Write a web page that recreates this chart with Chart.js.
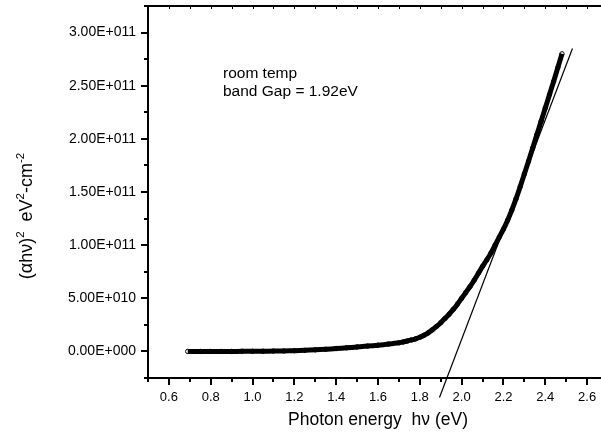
<!DOCTYPE html>
<html>
<head>
<meta charset="utf-8">
<script src="https://cdn.jsdelivr.net/npm/chart.js@4.4.1/dist/chart.umd.min.js"></script>
<style>
  html, body { margin: 0; padding: 0; background: #fff; overflow: hidden; width: 601px; height: 439px; }
  #wrap { position: absolute; left: 0; top: 0; width: 620px; height: 439px; }
</style>
</head>
<body>
<div id="wrap"><canvas id="c" width="620" height="439"></canvas></div>
<script>
// Measured (alpha*h*nu)^2 versus photon energy
const energy = [0.69, 0.75, 0.80, 0.85, 0.90, 0.95, 1.00, 1.05, 1.10, 1.15, 1.20, 1.25, 1.30, 1.35, 1.40, 1.45,
  1.50, 1.55, 1.60, 1.65, 1.70, 1.72, 1.74, 1.76, 1.78, 1.80, 1.82, 1.84, 1.86, 1.88, 1.90, 1.92, 1.94, 1.96, 1.98,
  2.00, 2.02, 2.04, 2.06, 2.08, 2.10, 2.12, 2.14, 2.16, 2.18, 2.20, 2.22, 2.24, 2.26, 2.28, 2.30,
  2.32, 2.34, 2.36, 2.38, 2.40, 2.42, 2.44, 2.46, 2.48];
const alphaHv2 = [0, 0, 0, 0, 0, 1e8, 1e8, 2e8, 3e8, 5e8, 7e8, 1.0e9, 1.5e9, 2.0e9, 2.7e9, 3.4e9,
  4.2e9, 5.0e9, 5.9e9, 6.9e9, 8.1e9, 8.9e9, 9.8e9, 1.08e10, 1.19e10, 1.33e10, 1.52e10, 1.75e10, 2.03e10, 2.35e10, 2.70e10, 3.10e10, 3.50e10, 3.95e10, 4.45e10,
  5.00e10, 5.55e10, 6.10e10, 6.70e10, 7.35e10, 8.00e10, 8.60e10, 9.25e10, 1.00e11, 1.075e11, 1.15e11, 1.235e11, 1.33e11, 1.435e11, 1.55e11, 1.67e11,
  1.79e11, 1.915e11, 2.04e11, 2.165e11, 2.29e11, 2.415e11, 2.54e11, 2.67e11, 2.80e11];
// Linear fit (tangent) giving the band gap
const fitEnergy = [1.894, 2.530];
const fitValue = [-4.34e10, 2.85e11];

const xTickMin = 0.5, xTickMax = 2.7, xStep = 0.1;
const yTickMin = -2.5e10, yTickMax = 3.25e11, yStep = 2.5e10;
const noteLines = ['room temp', 'band Gap = 1.92eV'];
const xTitle = 'Photon energy  h\u03BD (eV)';

const FONT = '"Liberation Sans", Arial, sans-serif';

function sci(v) {
  if (Math.abs(v) < 1) return '0.00E+000';
  const s = v.toExponential(2); // e.g. 3.00e+11
  const [m, e] = s.split('e');
  const ex = parseInt(e, 10);
  return m + 'E' + (ex < 0 ? '-' : '+') + String(Math.abs(ex)).padStart(3, '0');
}

const frame = {
  id: 'frame',
  afterDraw(chart) {
    const ctx = chart.ctx;
    const a = chart.chartArea;
    const xs = chart.scales.x, ys = chart.scales.y;
    ctx.save();
    ctx.strokeStyle = '#000';
    ctx.fillStyle = '#000';
    ctx.lineCap = 'butt';
    // axis lines
    ctx.lineWidth = 2;
    ctx.beginPath();
    ctx.moveTo(a.left, a.top - 1); ctx.lineTo(a.left, a.bottom + 1);
    ctx.moveTo(a.left - 1, a.bottom); ctx.lineTo(a.right, a.bottom);
    ctx.moveTo(a.left - 1, a.top); ctx.lineTo(a.right, a.top);
    ctx.stroke();
    // bottom ticks (outward) and top ticks (inward)
    xs.ticks.forEach(t => {
      const n = Math.round(t.value * 10);
      const px = Math.round(xs.getPixelForValue(t.value));
      const major = n % 2 === 0;
      ctx.lineWidth = 2;
      ctx.beginPath();
      ctx.moveTo(px, a.bottom);
      ctx.lineTo(px, a.bottom + (major ? 7 : 4));
      ctx.stroke();
      ctx.lineWidth = 1;
      ctx.beginPath();
      ctx.moveTo(px + 0.5, a.top);
      ctx.lineTo(px + 0.5, a.top + 3);
      ctx.stroke();
    });
    // left ticks (outward)
    ys.ticks.forEach(t => {
      const k = Math.round(t.value / 2.5e10);
      const py = Math.round(ys.getPixelForValue(t.value));
      const major = k % 2 === 0;
      ctx.lineWidth = 2;
      ctx.beginPath();
      ctx.moveTo(a.left, py);
      ctx.lineTo(a.left - (major ? 7 : 4), py);
      ctx.stroke();
    });
    // annotation
    ctx.font = '15.5px ' + FONT;
    ctx.textAlign = 'left';
    ctx.textBaseline = 'alphabetic';
    ctx.fillText(noteLines[0], a.left + 75, a.top + 72);
    ctx.fillText(noteLines[1], a.left + 75, a.top + 90);
    // y axis title with superscripts, rotated
    const parts = [
      ['(\u03B1h\u03BD)', false], ['2', true], ['  eV', false], ['2', true], ['-cm', false], ['-2', true]
    ];
    const big = '18px ' + FONT, small = '11.5px ' + FONT;
    let total = 0;
    parts.forEach(p => { ctx.font = p[1] ? small : big; total += ctx.measureText(p[0]).width; });
    ctx.translate(32, 216);
    ctx.rotate(-Math.PI / 2);
    let x = -total / 2;
    parts.forEach(p => {
      ctx.font = p[1] ? small : big;
      ctx.fillText(p[0], x, p[1] ? -8 : 0);
      x += ctx.measureText(p[0]).width;
    });
    ctx.restore();
  }
};

const ctx = document.getElementById('c').getContext('2d');
new Chart(ctx, {
  type: 'scatter',
  data: {
    datasets: [
      {
        label: 'data',
        data: energy.map((e, i) => ({ x: e, y: alphaHv2[i] })),
        showLine: true,
        borderColor: '#000',
        borderWidth: 5,
        pointRadius: 2.2,
        pointBorderWidth: 1,
        pointBorderColor: '#000',
        pointBackgroundColor: 'rgba(255,255,255,0)',
        tension: 0.3
      },
      {
        label: 'fit',
        data: fitEnergy.map((e, i) => ({ x: e, y: fitValue[i] })),
        showLine: true,
        borderColor: '#000',
        borderWidth: 1.2,
        pointRadius: 0,
        clip: false
      }
    ]
  },
  options: {
    responsive: false,
    animation: false,
    devicePixelRatio: 1,
    layout: { padding: { left: 0, right: 12, top: 6, bottom: 0 } },
    plugins: { legend: { display: false }, tooltip: { enabled: false } },
    scales: {
      x: {
        type: 'linear',
        min: xTickMin, max: xTickMax,
        grid: { display: false, drawTicks: false },
        border: { display: false },
        ticks: {
          stepSize: xStep,
          autoSkip: false,
          maxRotation: 0,
          padding: 12,
          color: '#000',
          font: { family: FONT, size: 13 },
          callback: (v) => {
            const n = Math.round(v * 10);
            return (n % 2 === 0 && n >= 6 && n <= 26) ? (n / 10).toFixed(1) : '';
          }
        },
        title: {
          display: true,
          text: xTitle,
          color: '#000',
          font: { family: FONT, size: 17.5 },
          padding: { top: 0, bottom: 8 }
        },
        afterFit: (s) => { s.height = 61; s.paddingLeft = 0; s.paddingRight = 0; }
      },
      y: {
        type: 'linear',
        min: yTickMin, max: yTickMax,
        grid: { display: false, drawTicks: false },
        border: { display: false },
        ticks: {
          stepSize: yStep,
          autoSkip: false,
          padding: 12,
          color: '#000',
          font: { family: FONT, size: 14 },
          callback: (v) => {
            const r = v / 5e10;
            return (Math.abs(r - Math.round(r)) < 1e-6 && v > -1e9 && v < 3.1e11) ? sci(v) : '';
          }
        },
        afterFit: (s) => { s.width = 148; s.paddingTop = 0; s.paddingBottom = 0; }
      }
    }
  },
  plugins: [frame]
});
</script>
</body>
</html>
